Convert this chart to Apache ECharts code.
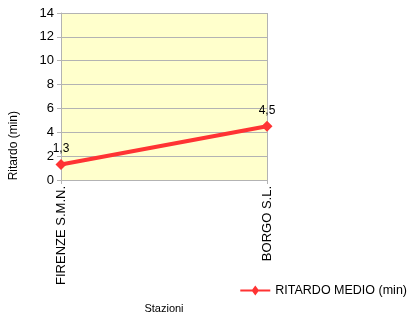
<!DOCTYPE html>
<html>
<head>
<meta charset="utf-8">
<script src="https://cdn.jsdelivr.net/npm/echarts@6/dist/echarts.min.js"></script>
<style>
  html, body { margin: 0; padding: 0; background: #fff; }
  #chart { width: 411px; height: 315px; }
</style>
</head>
<body>
<div id="chart"></div>
<script>
// dati del grafico
const stazioni = ["FIRENZE S.M.N.", "BORGO S.L."];
const ritardoMedio = [1.3, 4.5];
const yTicks = [0, 2, 4, 6, 8, 10, 12, 14];

var chart = echarts.init(document.getElementById('chart'));

const font = "Liberation Sans, Arial, sans-serif";

const option = {
  animation: false,
  textStyle: { fontFamily: font },
  grid: {
    left: 61, right: 144, top: 13, bottom: 135,
    outerBoundsMode: "none", containLabel: false,
    show: true, backgroundColor: "#ffffcc", borderWidth: 0
  },
  legend: {
    right: -1, top: 279,
    itemWidth: 30, itemHeight: 10, itemGap: 4,
    textStyle: { fontSize: 12.5, color: "#000", fontFamily: font },
    data: [{ name: "RITARDO MEDIO (min)", icon: "path://M0,4 L12,4 L15,0 L18,4 L30,4 L30,6 L18,6 L15,10 L12,6 L0,6 Z" }]
  },
  xAxis: {
    type: "category",
    data: stazioni,
    boundaryGap: false,
    name: "Stazioni",
    nameLocation: "middle",
    nameGap: 123,
    nameTextStyle: { fontSize: 11, color: "#000", fontFamily: font },
    axisLine: { lineStyle: { color: "#b3b3b3" } },
    axisTick: { show: true, length: 4, lineStyle: { color: "#b3b3b3" } },
    axisLabel: { rotate: 90, fontSize: 13, color: "#000", margin: 6, fontFamily: font },
    splitLine: { show: true, lineStyle: { color: "#b3b3b3" } }
  },
  yAxis: {
    type: "value",
    min: yTicks[0],
    max: yTicks[yTicks.length - 1],
    interval: 2,
    axisLine: { show: true, lineStyle: { color: "#b3b3b3" } },
    axisTick: { show: true, length: 4, lineStyle: { color: "#b3b3b3" } },
    axisLabel: { fontSize: 13, color: "#000", margin: 7, fontFamily: font },
    splitLine: { show: true, lineStyle: { color: "#b3b3b3" } }
  },
  graphic: [{
    type: "text",
    left: 8, top: 111,
    rotation: Math.PI / 2,
    style: { text: "Ritardo (min)", fill: "#000", font: "12px " + font }
  }],
  series: [{
    name: "RITARDO MEDIO (min)",
    type: "line",
    data: ritardoMedio,
    symbol: "diamond",
    symbolSize: 11,
    itemStyle: { color: "#ff3333" },
    lineStyle: { color: "#ff3333", width: 4 },
    label: {
      show: true, position: "top", distance: 4,
      color: "#000", fontSize: 12, fontFamily: font,
      formatter: p => String(p.value).replace(".", ",")
    }
  }]
};

chart.setOption(option);
window.addEventListener("resize", () => {
  chart.resize();
});
</script>
</body>
</html>
